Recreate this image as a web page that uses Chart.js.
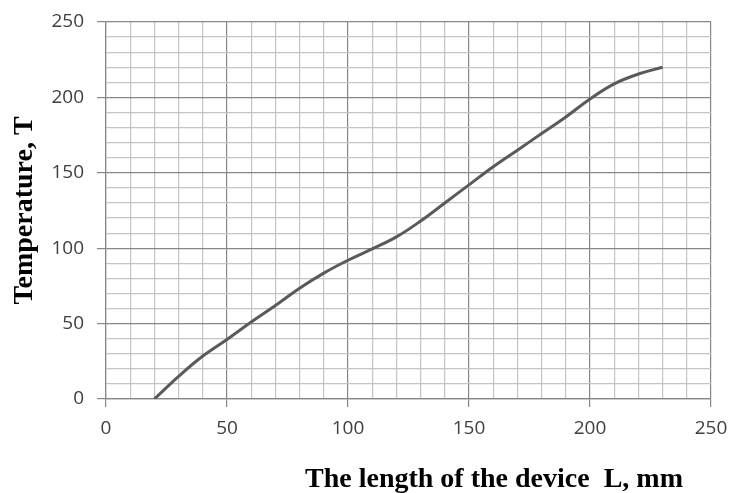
<!DOCTYPE html>
<html>
<head>
<meta charset="utf-8">
<script src="https://cdn.jsdelivr.net/npm/chart.js@4"></script>
<style>
  html, body { margin: 0; padding: 0; background: #fff; }
  #wrap { width: 729px; height: 493px; position: relative; }
</style>
</head>
<body>
<div id="wrap"><canvas id="chart"></canvas></div>
<script>
// values
var lengthMm = [20, 30, 40, 50, 60, 70, 80, 90, 100, 110, 120, 130, 140, 150, 160, 170, 180, 190, 200, 210, 220, 230]
var temperature = [0, 15, 28.5, 39.5, 51, 62, 73.5, 83.5, 92, 99.5, 107.5, 118, 130, 142, 154, 165, 176, 187, 199, 209, 215.5, 220]
var xTickLabels = [0, 50, 100, 150, 200, 250]
var yTickLabels = [0, 50, 100, 150, 200, 250]
var xTitle = 'The length of the device  L, mm'
var yTitle = 'Temperature, T'

var majorColor = '#878787'
var minorColor = '#c4c4c4'

function gridColor (ctx) {
  return ctx.tick && ctx.tick.value % 50 === 0 ? majorColor : minorColor
}
function tickMarkColor (ctx) {
  return ctx.tick && ctx.tick.value % 50 === 0 ? majorColor : 'rgba(0,0,0,0)'
}

// x axis title sits right of centre in the original, so draw it here
var xTitlePlugin = {
  id: 'xTitle',
  afterDraw: function (chart) {
    var c = chart.ctx
    c.save()
    c.font = 'bold 28px "Liberation Serif"'
    c.fillStyle = '#000'
    c.textAlign = 'center'
    c.textBaseline = 'alphabetic'
    c.fillText(xTitle, 494, 487)
    c.restore()
  }
}

var points = lengthMm.map(function (x, i) { return { x: x, y: temperature[i] } })

new Chart(document.getElementById('chart'), {
  type: 'line',
  data: {
    datasets: [{
      data: points,
      borderColor: '#5a5a5a',
      borderWidth: 3,
      pointRadius: 0,
      fill: false,
      tension: 0.4
    }]
  },
  options: {
    responsive: true,
    maintainAspectRatio: false,
    animation: false,
    devicePixelRatio: 1,
    layout: { padding: { top: 22, right: 18, left: 0, bottom: 0 } },
    plugins: { legend: { display: false }, tooltip: { enabled: false } },
    scales: {
      x: {
        type: 'linear',
        min: 0,
        max: 250,
        afterFit: function (scale) {
          scale.height = 94
          scale.paddingLeft = 0
          scale.paddingRight = 0
        },
        ticks: {
          stepSize: 10,
          autoSkip: false,
          maxRotation: 0,
          padding: 10,
          color: '#404040',
          font: { family: 'Open Sans', size: 19 },
          callback: function (v) { return xTickLabels.indexOf(v) >= 0 ? String(v) : '' }
        },
        grid: { color: gridColor, tickColor: tickMarkColor, tickLength: 8, lineWidth: 1.2 },
        border: { color: majorColor, width: 1.2 }
      },
      y: {
        min: 0,
        max: 250,
        afterFit: function (scale) {
          scale.width = 106
          scale.paddingTop = 0
          scale.paddingBottom = 0
        },
        ticks: {
          stepSize: 10,
          autoSkip: false,
          padding: 13,
          color: '#404040',
          font: { family: 'Open Sans', size: 19 },
          callback: function (v) { return yTickLabels.indexOf(v) >= 0 ? String(v) : '' }
        },
        grid: { color: gridColor, tickColor: tickMarkColor, tickLength: 9, lineWidth: 1.2 },
        border: { color: majorColor, width: 1.2 },
        title: {
          display: true,
          text: yTitle,
          color: '#000',
          font: { family: 'Liberation Serif', size: 28, weight: 'bold' },
          padding: { top: 8, bottom: 0 }
        }
      }
    }
  },
  plugins: [xTitlePlugin]
})
</script>
</body>
</html>
